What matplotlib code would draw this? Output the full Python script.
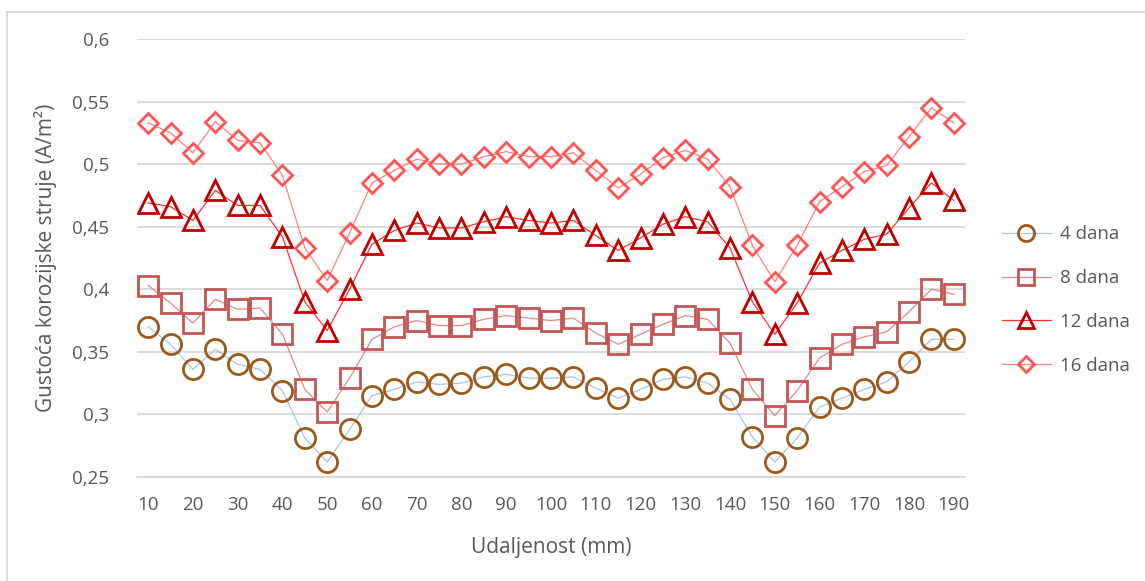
import matplotlib
matplotlib.use("Agg")
import matplotlib.pyplot as plt
from matplotlib.lines import Line2D

plt.rcParams['font.family'] = ['Open Sans', 'DejaVu Sans']

x_mm = list(range(10, 195, 5))

dana4 = [0.370, 0.356, 0.336, 0.352, 0.340, 0.336, 0.319, 0.281, 0.262, 0.288,
         0.315, 0.320, 0.326, 0.324, 0.325, 0.330, 0.332, 0.329, 0.329, 0.330,
         0.321, 0.313, 0.320, 0.328, 0.330, 0.325, 0.312, 0.282, 0.262, 0.281,
         0.306, 0.313, 0.320, 0.326, 0.342, 0.360, 0.360]
dana8 = [0.403, 0.389, 0.373, 0.392, 0.384, 0.385, 0.364, 0.320, 0.302, 0.329,
         0.360, 0.370, 0.375, 0.371, 0.371, 0.376, 0.379, 0.377, 0.375, 0.377,
         0.365, 0.356, 0.364, 0.372, 0.379, 0.376, 0.357, 0.320, 0.299, 0.319,
         0.345, 0.356, 0.362, 0.366, 0.382, 0.400, 0.396]
dana12 = [0.469, 0.466, 0.455, 0.479, 0.467, 0.467, 0.442, 0.390, 0.367, 0.400,
          0.436, 0.447, 0.453, 0.449, 0.449, 0.454, 0.458, 0.455, 0.453, 0.455,
          0.443, 0.431, 0.441, 0.452, 0.458, 0.454, 0.433, 0.390, 0.364, 0.389,
          0.421, 0.431, 0.440, 0.444, 0.465, 0.485, 0.471]
dana16 = [0.533, 0.525, 0.509, 0.534, 0.519, 0.517, 0.491, 0.433, 0.407, 0.445,
          0.485, 0.495, 0.504, 0.500, 0.500, 0.506, 0.510, 0.506, 0.506, 0.509,
          0.495, 0.481, 0.492, 0.505, 0.511, 0.504, 0.482, 0.435, 0.406, 0.435,
          0.470, 0.482, 0.494, 0.499, 0.522, 0.545, 0.533]

series_labels = ['4 dana', '8 dana', '12 dana', '16 dana']
x_ticks = list(range(10, 200, 10))
y_ticks = [0.25, 0.3, 0.35, 0.4, 0.45, 0.5, 0.55, 0.6]
y_tick_labels = ['0,25', '0,3', '0,35', '0,4', '0,45', '0,5', '0,55', '0,6']

fig = plt.figure(figsize=(11.45, 5.81), dpi=100)
ax = fig.add_axes([137/1145, 1 - 477/581, (965 - 137)/1145, (477 - 39)/581])

styles = [
    dict(color='#A9C4EB', marker='o', mec='#9C5A1A', ms=14.5, lw=0.9),
    dict(color='#E08A8A', marker='s', mec='#C55555', ms=14.5, lw=0.9),
    dict(color='#FF3333', marker='^', mec='#C00000', ms=15, lw=0.9),
    dict(color='#FF8080', marker='D', mec='#FF5555', ms=10.5, lw=0.9),
]
for data, lab, st in zip([dana4, dana8, dana12, dana16], series_labels, styles):
    ax.plot(x_mm, data, color=st['color'], lw=st['lw'], marker=st['marker'],
            ms=st['ms'], mfc='none', mec=st['mec'], mew=2.0, label=lab, zorder=3)

ax.set_xlim(7.5, 192.5)
ax.set_ylim(0.25, 0.6)
ax.set_xticks(x_ticks)
ax.set_xticklabels([str(v) for v in x_ticks])
ax.set_yticks(y_ticks)
ax.set_yticklabels(y_tick_labels)
ax.grid(axis='y', color='#D9D9D9', lw=1.3)
ax.set_axisbelow(True)
for s in ['top', 'right', 'left']:
    ax.spines[s].set_visible(False)
ax.spines['bottom'].set_color('#D9D9D9')
ax.spines['bottom'].set_linewidth(1.3)
ax.tick_params(axis='both', length=0, labelsize=13.5, colors='#595959')
ax.tick_params(axis='y', pad=20)
ax.tick_params(axis='x', pad=14)
ax.set_xlabel('Udaljenost (mm)', fontsize=15, color='#595959', labelpad=16)
ax.set_ylabel('Gustoća korozijske struje (A/m²)', fontsize=15, color='#595959', labelpad=11)

handles = []
for lab, st in zip(series_labels, styles):
    handles.append(Line2D([], [], color=st['color'], lw=st['lw'], marker=st['marker'],
                          ms=st['ms'] * 0.8,
                          mfc='none', mec=st['mec'], mew=2.0))
leg = fig.legend(handles, series_labels, loc='center left',
                 bbox_to_anchor=(985/1145, 1 - 300/581), frameon=False,
                 fontsize=13.5, labelcolor='#595959', handlelength=2.6,
                 labelspacing=1.38, handletextpad=0.5)

# chart area border
fig.add_artist(Line2D([7/1145, 7/1145], [0, 1 - 12/581], transform=fig.transFigure,
                      color='#D9D9D9', lw=1.2))
fig.add_artist(Line2D([7/1145, 1], [1 - 12/581, 1 - 12/581], transform=fig.transFigure,
                      color='#D9D9D9', lw=1.2))

fig.savefig('out.png', dpi=100)
